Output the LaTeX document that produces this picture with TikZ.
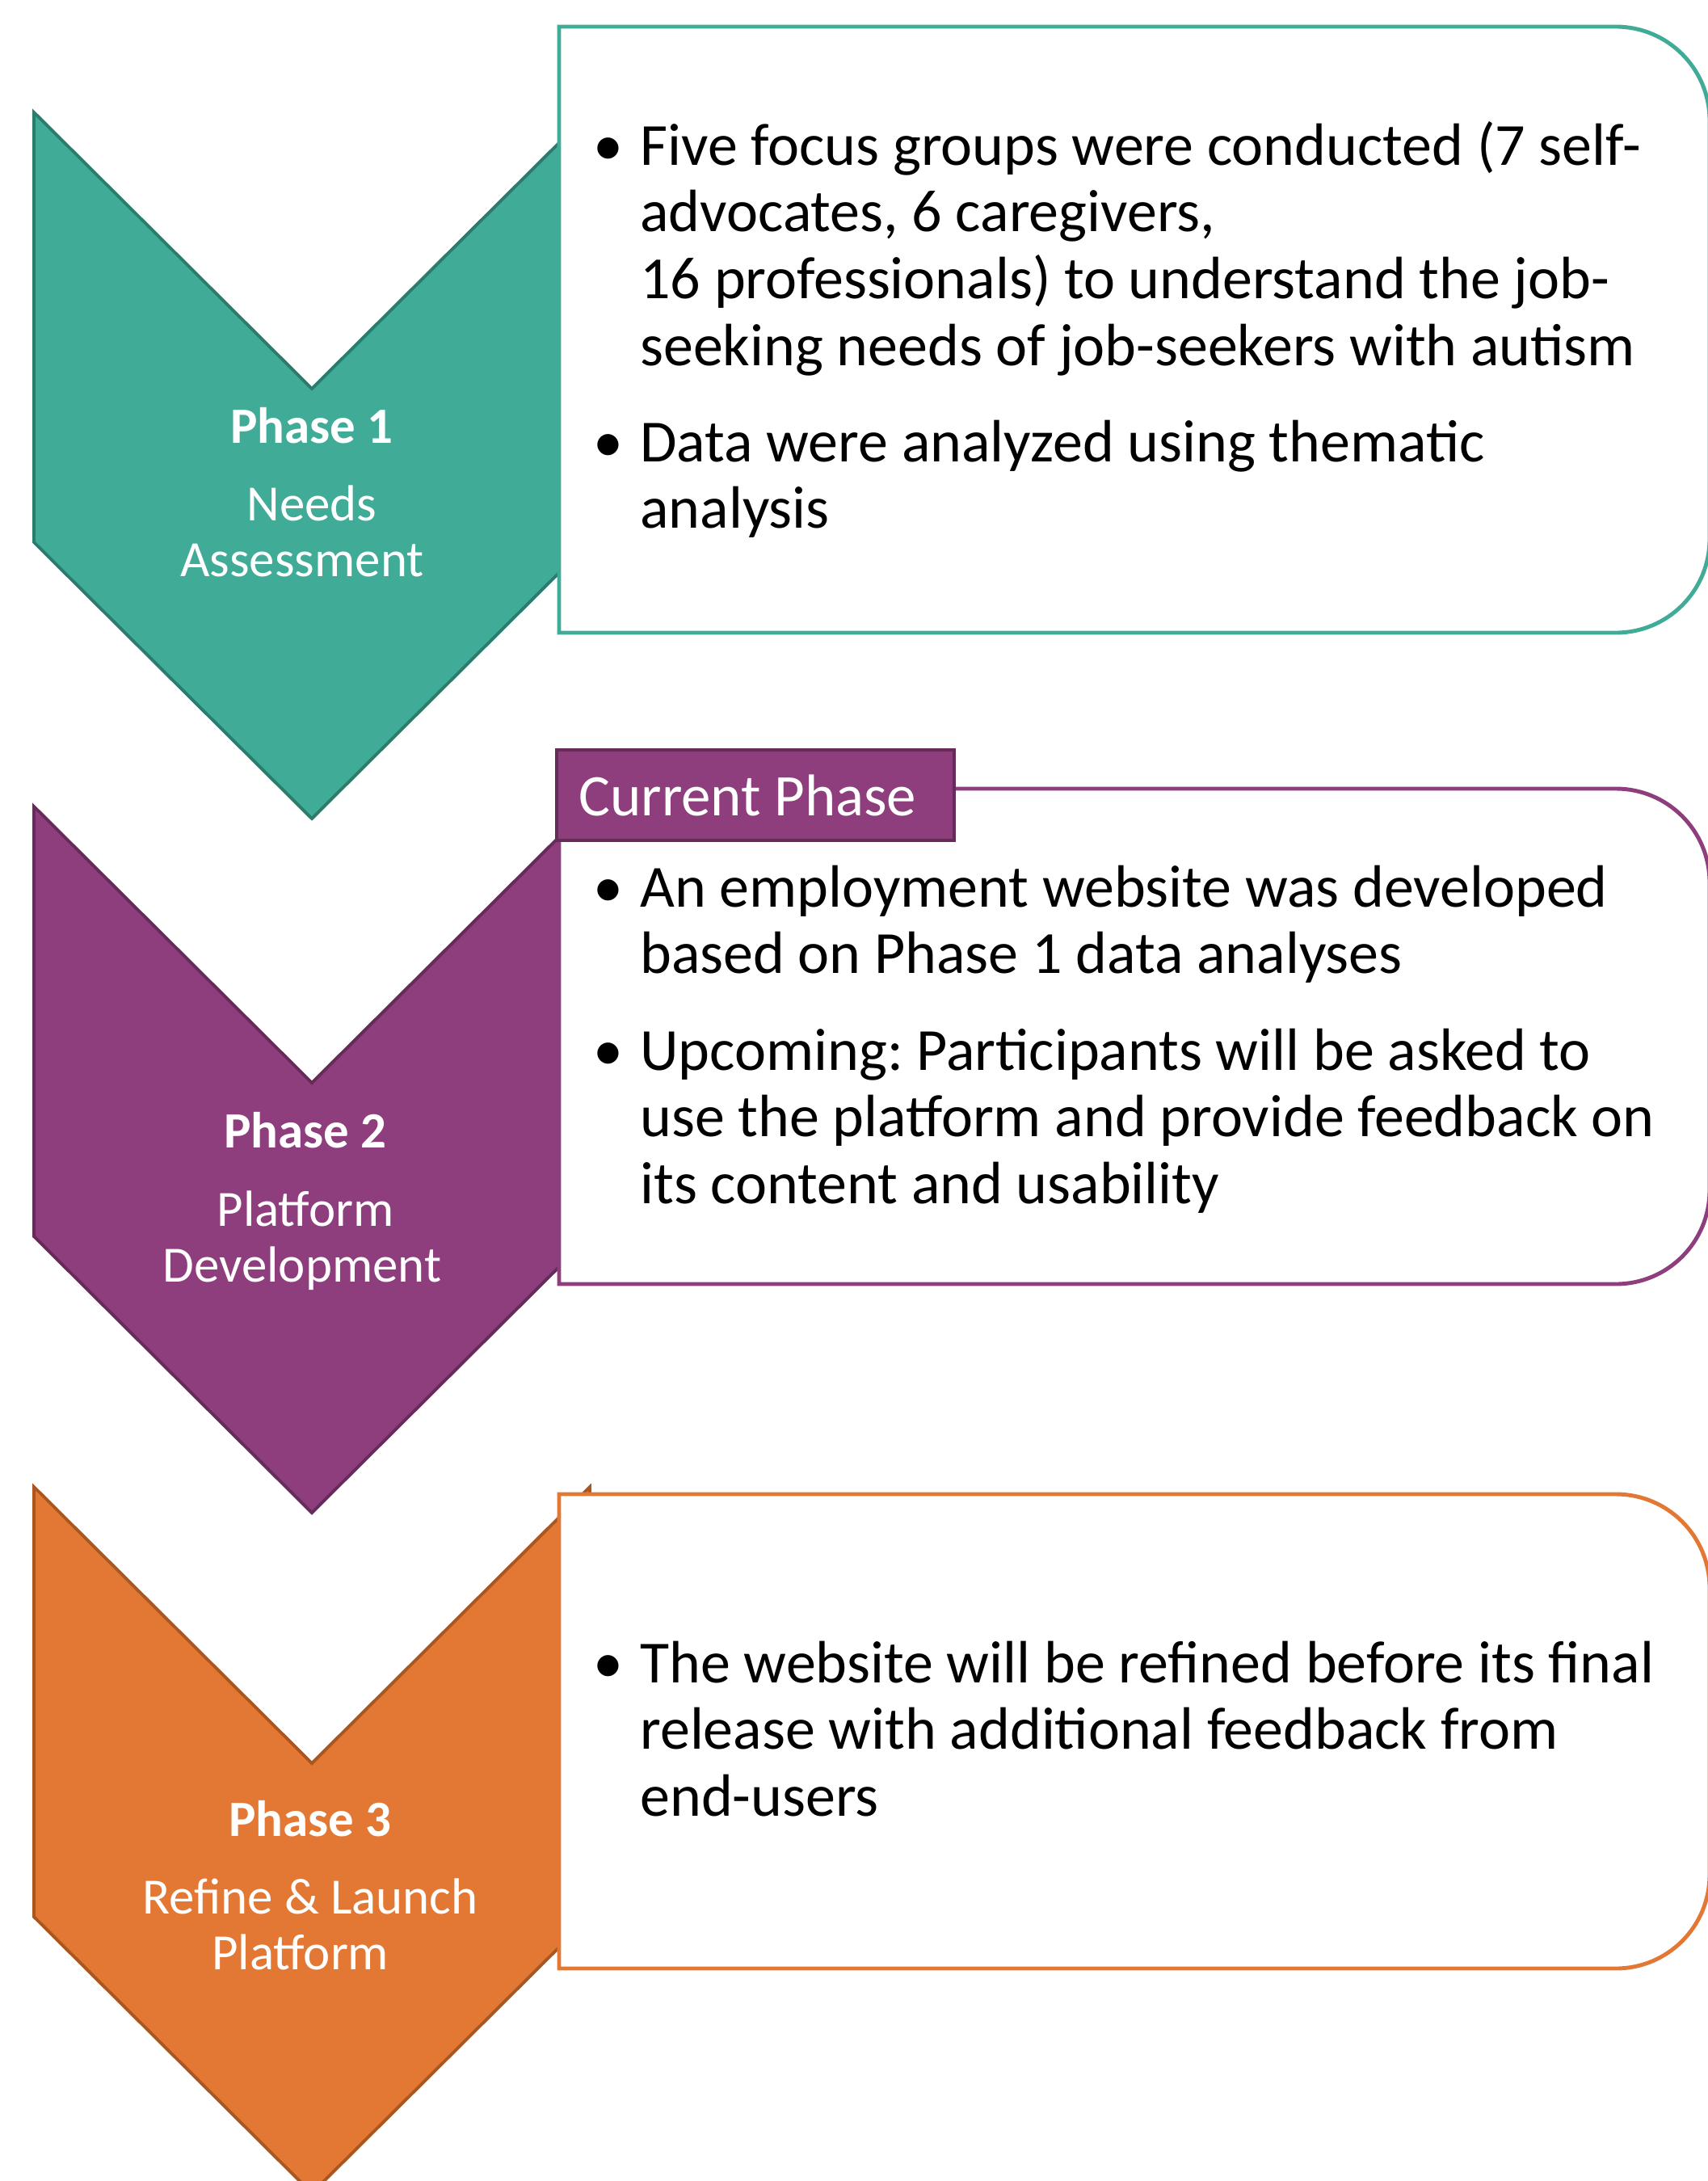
\documentclass[tikz,border=0pt]{standalone}
\usepackage{fontspec}
\setmainfont{Carlito}
\definecolor{tealfill}{RGB}{64,171,151}
\definecolor{tealline}{RGB}{44,124,109}
\definecolor{plumfill}{RGB}{142,61,125}
\definecolor{plumline}{RGB}{101,43,89}
\definecolor{orangefill}{RGB}{227,120,52}
\definecolor{orangeline}{RGB}{170,86,32}
\newcommand{\bodyfont}{\fontsize{42.1pt}{47.0pt}\selectfont\frenchspacing\setlength{\parskip}{20.9pt}}
\newcommand{\labelfont}{\fontsize{35.8pt}{39.3pt}\selectfont}
\newcommand{\bul}[1]{\raggedright\spaceskip=0.226em\relax\noindent\hangindent=33pt\hangafter=1\makebox[33pt][l]{\textbullet}#1\par}
\begin{document}
\begin{tikzpicture}[scale=0.2]
	\tikzstyle{every node}+=[inner sep=0pt]
	\tikzstyle{chev}=[line width=2.2pt, line join=miter]
	\tikzstyle{panel}=[line width=2.8pt, fill=white]
	\tikzstyle{bullets}=[anchor=west, text width=774pt, font=\bodyfont]
	\tikzstyle{phaselbl}=[text=white, align=center, font=\labelfont]
	\useasboundingbox (0,0) rectangle (211.4,-269.9);
	\draw [chev, draw=tealline, fill=tealfill] (4.2,-13.9) -- (38.6,-48.1) -- (73.0,-13.9) -- (73.0,-67.1) -- (38.6,-101.3) -- (4.2,-67.1) -- cycle;
	\draw [panel, draw=tealfill] (69.2,-3.3) -- (200.0,-3.3) arc (90:0:11.6) -- (211.6,-66.7) arc (0:-90:11.6) -- (69.2,-78.3) -- cycle;
	\draw (38.6,-60.95) node [phaselbl] (lbl1) {\textbf{Phase 1}\\[15.4pt]Needs\\Assessment\hspace*{13.7pt}};
	\draw (73.4,-40.8) node [bullets] (txt1) {\bul{Five focus groups were conducted (7 self-\newline advocates, 6 caregivers,\newline 16 professionals) to understand the job-\newline seeking needs of job-seekers with autism}\bul{Data were analyzed using thematic\newline analysis}};
	\draw [chev, draw=plumline, fill=plumfill] (4.2,-99.8) -- (38.6,-134.0) -- (73.0,-99.8) -- (73.0,-153.0) -- (38.6,-187.2) -- (4.2,-153.0) -- cycle;
	\draw [panel, draw=plumfill] (69.2,-97.6) -- (200.0,-97.6) arc (90:0:11.6) -- (211.6,-147.3) arc (0:-90:11.6) -- (69.2,-158.9) -- cycle;
	\draw (93.5,-98.4) node [fill=plumfill, draw=plumline, line width=2.3pt, minimum width=280pt, minimum height=63.7pt, text=white, font=\fontsize{41.5pt}{46pt}\selectfont] (tab) {Current Phase\hspace*{11pt}};
	\draw (37.8,-148.65) node [phaselbl] (lbl2) {\textbf{Phase 2}\\[15.4pt]Platform\\Development\hspace*{4.6pt}};
	\draw (73.4,-128.6) node [bullets] (txt2) {\bul{An employment website was developed\newline based on Phase 1 data analyses}\bul{Upcoming: Participants will be asked to\newline use the platform and provide feedback on\newline its content and usability}};
	\draw [chev, draw=orangeline, fill=orangefill] (4.2,-184.0) -- (38.6,-218.2) -- (73.0,-184.0) -- (73.0,-237.2) -- (38.6,-271.4) -- (4.2,-237.2) -- cycle;
	\draw [panel, draw=orangefill] (69.2,-184.9) -- (200.0,-184.9) arc (90:0:11.6) -- (211.6,-232.0) arc (0:-90:11.6) -- (69.2,-243.6) -- cycle;
	\draw (38.4,-233.3) node [phaselbl] (lbl3) {\textbf{Phase 3}\\[15.4pt]Refine \& Launch\\Platform\hspace*{14pt}};
	\draw (73.4,-213.95) node [bullets] (txt3) {\bul{The website will be refined before its final\newline release with additional feedback from\newline end-users}};
\end{tikzpicture}
\end{document}
